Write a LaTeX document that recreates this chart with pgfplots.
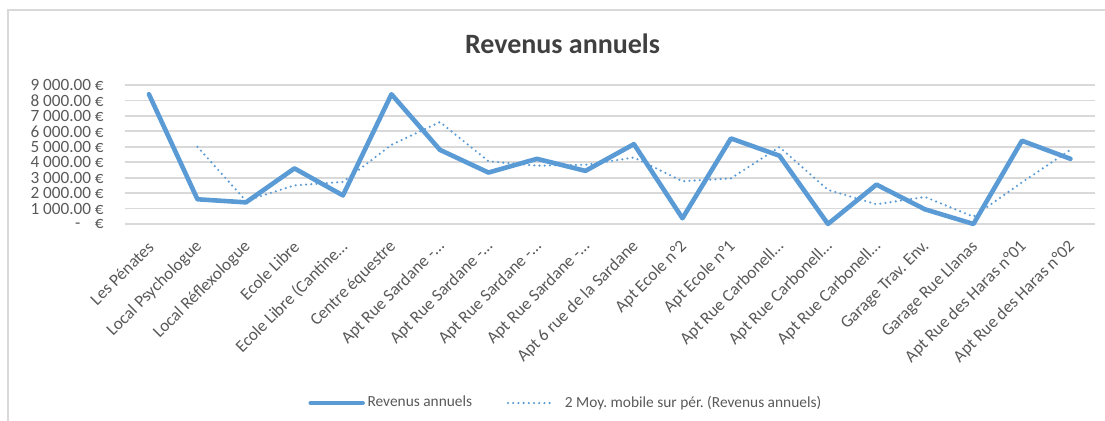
\documentclass[border=0pt]{standalone}
\usepackage{fontspec}
\setmainfont{Carlito}
\usepackage{pgfplots}
\pgfplotsset{compat=1.18}
\frenchspacing
\definecolor{xlblue}{HTML}{5B9BD5}
\definecolor{xlgrid}{HTML}{D9D9D9}
\definecolor{xltext}{HTML}{595959}
\definecolor{xltitle}{HTML}{404040}
\pgfplotsset{
  solidleg/.style={legend image code/.code={%
      \draw[xlblue, line width=2.25pt, line cap=round] (0.8pt,0pt) -- (26.8pt,0pt);}},
  dotleg/.style={legend image code/.code={%
      \draw[xlblue, line width=1.2pt, line cap=round, dash pattern=on 0pt off 2.6pt]
        (0.5pt,0pt) -- (23.5pt,0pt);
      \path (27pt,0pt);}},
}
\begin{document}
\begin{tikzpicture}
% page size = chart area (1 px = 0.5 pt)
\path[use as bounding box] (-62.35pt,-98.5pt) rectangle (490.15pt,112pt);
% chart frame, left and top edges only visible
\draw[xlgrid, line width=0.8pt] (-58.35pt,-98.5pt) -- (-58.35pt,107pt) -- (490.15pt,107pt);
\node[anchor=base, font=\fontsize{14}{16}\selectfont\bfseries, text=xltitle]
  at (218.9pt,85.35pt) {Revenus annuels};
\begin{axis}[
    at={(0pt,0pt)}, anchor=south west,
    scale only axis, width=485pt, height=69.5pt,
    xmin=-0.5, xmax=19.5,
    ymin=0, ymax=9000,
    clip=false,
    axis line style={draw=none},
    major tick length=0pt,
    ymajorgrids,
    major grid style={xlgrid, line width=0.9pt},
    ytick={0,1000,...,9000},
    yticklabels={{-\hspace{0.85em}€},1 000.00 €,2 000.00 €,3 000.00 €,4 000.00 €,
                 5 000.00 €,6 000.00 €,7 000.00 €,8 000.00 €,9 000.00 €},
    yticklabel style={font=\fontsize{8.6}{10}\selectfont, text=xltext,
                      anchor=east, inner sep=0pt, xshift=-10.3pt},
    xtick={0,...,19},
    xticklabels={Les Pénates,Local Psychologue,Local Réflexologue,Ecole Libre,
                 Ecole Libre (Cantine…,Centre équestre,Apt Rue Sardane -…,
                 Apt Rue Sardane -…,Apt Rue Sardane -…,Apt Rue Sardane -…,
                 Apt 6 rue de la Sardane,Apt Ecole n°2,Apt Ecole n°1,
                 Apt Rue Carbonell…,Apt Rue Carbonell…,Apt Rue Carbonell…,
                 Garage Trav. Env.,Garage Rue Llanas,Apt Rue des Haras n°01,
                 Apt Rue des Haras n°02},
    xticklabel style={font=\fontsize{8.6}{10}\selectfont, text=xltext,
                      xshift=1pt, yshift=-10pt, rotate=45, anchor=east, inner sep=0pt},
    legend columns=2,
    legend style={draw=none, fill=none, at={(0.189,-1.288)}, anchor=west,
                  inner sep=0pt, font=\fontsize{7.7}{9}\selectfont, text=xltext,
                  nodes={inner sep=1.3pt},
                  /tikz/every even column/.append style={column sep=16pt}},
  ]

  % revenus annuels
  \addplot[xlblue, line width=2.3pt, line join=round, line cap=round, solidleg]
    coordinates {(0,8400) (1,1600) (2,1400) (3,3600) (4,1850) (5,8400) (6,4800)
                 (7,3330) (8,4220) (9,3440) (10,5170) (11,370) (12,5540) (13,4420)
                 (14,0) (15,2550) (16,950) (17,0) (18,5390) (19,4220)};

  % moyenne mobile sur 2 periodes
  \addplot[xlblue, line width=1.2pt, line cap=round, line join=round,
    dash pattern=on 0pt off 2.6pt, dotleg]
    coordinates {(1,5000) (2,1500) (3,2500) (4,2725) (5,5125) (6,6600) (7,4065)
                 (8,3775) (9,3830) (10,4305) (11,2770) (12,2955) (13,4980)
                 (14,2210) (15,1275) (16,1750) (17,475) (18,2695) (19,4805)};

  \legend{Revenus annuels,2 Moy. mobile sur pér. (Revenus annuels)}
\end{axis}
\end{tikzpicture}
\end{document}
